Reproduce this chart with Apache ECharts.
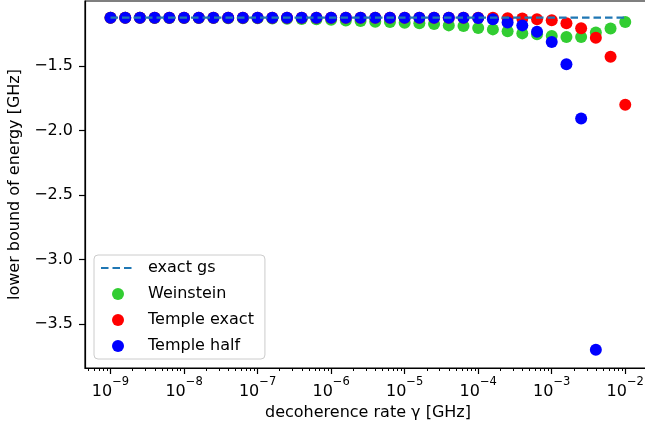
<!DOCTYPE html>
<html>
<head>
<meta charset="utf-8">
<script src="https://cdn.jsdelivr.net/npm/echarts@6/dist/echarts.min.js"></script>
<style>
html,body{margin:0;padding:0;background:#fff;}
#chart{width:645px;height:429px;}
</style>
</head>
<body>
<div id="chart"></div>
<script>
// decoherence rate gamma [GHz]
const gamma = [1e-9, 1.585e-9, 2.512e-9, 3.981e-9, 6.310e-9,
  1e-8, 1.585e-8, 2.512e-8, 3.981e-8, 6.310e-8,
  1e-7, 1.585e-7, 2.512e-7, 3.981e-7, 6.310e-7,
  1e-6, 1.585e-6, 2.512e-6, 3.981e-6, 6.310e-6,
  1e-5, 1.585e-5, 2.512e-5, 3.981e-5, 6.310e-5,
  1e-4, 1.585e-4, 2.512e-4, 3.981e-4, 6.310e-4,
  1e-3, 1.585e-3, 2.512e-3, 3.981e-3, 6.310e-3,
  1e-2];
const exactGs = [-1.125, -1.125, -1.125, -1.125, -1.125, -1.125, -1.125, -1.125, -1.125, -1.125,
  -1.125, -1.125, -1.125, -1.125, -1.125, -1.125, -1.125, -1.125, -1.125, -1.125,
  -1.125, -1.125, -1.125, -1.125, -1.125, -1.125, -1.125, -1.125, -1.125, -1.125,
  -1.125, -1.125, -1.125, -1.125, -1.125, -1.125];
const weinstein = [-1.1265, -1.1265, -1.1265, -1.127, -1.127, -1.127, -1.128, -1.128, -1.129, -1.129,
  -1.130, -1.131, -1.133, -1.135, -1.138, -1.142, -1.147, -1.152, -1.157, -1.159,
  -1.164, -1.169, -1.175, -1.185, -1.190, -1.206, -1.216, -1.231, -1.247, -1.254,
  -1.268, -1.275, -1.275, -1.241, -1.210, -1.159];
const templeExact = [-1.125, -1.125, -1.125, -1.125, -1.125, -1.125, -1.125, -1.125, -1.125, -1.125,
  -1.125, -1.125, -1.125, -1.125, -1.125, -1.125, -1.125, -1.125, -1.125, -1.125,
  -1.125, -1.125, -1.125, -1.125, -1.125, -1.125, -1.126, -1.130, -1.131, -1.138,
  -1.145, -1.169, -1.208, -1.280, -1.428, -1.800];
const templeHalf = [-1.125, -1.125, -1.125, -1.125, -1.125, -1.125, -1.125, -1.125, -1.125, -1.125,
  -1.125, -1.125, -1.125, -1.125, -1.125, -1.125, -1.125, -1.125, -1.125, -1.125,
  -1.125, -1.125, -1.125, -1.125, -1.126, -1.127, -1.138, -1.163, -1.185, -1.234,
  -1.314, -1.487, -1.906, -3.700, null, null];
const xMajorTicks = [1e-9, 1e-8, 1e-7, 1e-6, 1e-5, 1e-4, 1e-3, 1e-2];
const xMinorTicks = [
  5e-10, 6e-10, 7e-10, 8e-10, 9e-10,
  2e-9, 3e-9, 4e-9, 5e-9, 6e-9, 7e-9, 8e-9, 9e-9,
  2e-8, 3e-8, 4e-8, 5e-8, 6e-8, 7e-8, 8e-8, 9e-8,
  2e-7, 3e-7, 4e-7, 5e-7, 6e-7, 7e-7, 8e-7, 9e-7,
  2e-6, 3e-6, 4e-6, 5e-6, 6e-6, 7e-6, 8e-6, 9e-6,
  2e-5, 3e-5, 4e-5, 5e-5, 6e-5, 7e-5, 8e-5, 9e-5,
  2e-4, 3e-4, 4e-4, 5e-4, 6e-4, 7e-4, 8e-4, 9e-4,
  2e-3, 3e-3, 4e-3, 5e-3, 6e-3, 7e-3, 8e-3, 9e-3,
  2e-2];
const yTicks = [-3.5, -3.0, -2.5, -2.0, -1.5];

const FONT = 'DejaVu Sans';
const pairs = (ys) => gamma.map((g, i) => [g, ys[i]]).filter(p => p[1] !== null);
const X_MIN = Math.pow(10, -9.347);
const X_MAX = Math.pow(10, -1.65);

const chart = echarts.init(document.getElementById('chart'), null, {renderer: 'canvas'});
chart.setOption({
  animation: false,
  backgroundColor: '#fff',
  grid: {left: 85, top: 1, right: -6, bottom: 61, show: true, borderColor: '#000', borderWidth: 1.2,
    containLabel: false, outerBoundsMode: 'none'},
  xAxis: [{
    type: 'log', logBase: 10, min: X_MIN, max: X_MAX,
    name: 'decoherence rate γ [GHz]', nameLocation: 'middle', nameGap: 34,
    nameTextStyle: {fontFamily: FONT, fontSize: 16, color: '#000'},
    axisLine: {show: true, lineStyle: {color: '#000', width: 1.2}},
    axisTick: {show: true, length: 6, customValues: xMajorTicks, lineStyle: {color: '#000', width: 1.2}},
    splitLine: {show: false},
    minorTick: {show: false},
    axisLabel: {
      customValues: xMajorTicks, margin: 8, color: '#000',
      formatter: function (v) {
        const e = Math.round(Math.log10(v));
        return '{b|10}{s|' + (e < 0 ? '\u2212' : '') + Math.abs(e) + '}';
      },
      rich: {
        b: {fontFamily: FONT, fontSize: 16, color: '#000', lineHeight: 24, verticalAlign: 'bottom'},
        s: {fontFamily: FONT, fontSize: 11.5, color: '#000', lineHeight: 11, verticalAlign: 'top'}
      }
    }
  }, {
    type: 'log', logBase: 10, min: X_MIN, max: X_MAX, position: 'bottom',
    axisLine: {show: false},
    axisTick: {show: true, length: 3, customValues: xMinorTicks, lineStyle: {color: '#000', width: 1}},
    axisLabel: {show: false},
    splitLine: {show: false}
  }],
  yAxis: {
    type: 'value', min: -3.841, max: -0.996,
    name: 'lower bound of energy [GHz]', nameLocation: 'middle', nameGap: 52, nameRotate: 90,
    nameTextStyle: {fontFamily: FONT, fontSize: 16, color: '#000'},
    axisLine: {show: true, lineStyle: {color: '#000', width: 1.2}},
    axisTick: {show: true, length: 6, customValues: yTicks, lineStyle: {color: '#000', width: 1.2}},
    splitLine: {show: false},
    axisLabel: {
      customValues: yTicks, margin: 12, color: '#000', fontFamily: FONT, fontSize: 16,
      formatter: v => (v < 0 ? '\u2212' : '') + Math.abs(v).toFixed(1)
    }
  },
  legend: {
    orient: 'vertical', left: 94, top: 255,
    data: ['exact gs', 'Weinstein', 'Temple exact', 'Temple half'],
    itemWidth: 34, itemHeight: 12, itemGap: 8,
    padding: [4, 11, 4, 6],
    backgroundColor: 'rgba(255,255,255,0.8)', borderColor: '#cccccc', borderWidth: 1, borderRadius: 4,
    textStyle: {fontFamily: FONT, fontSize: 16, color: '#000', lineHeight: 18, padding: [0, 0, 0, 8]}
  },
  series: [
    {name: 'Weinstein', type: 'scatter', xAxisIndex: 0, data: pairs(weinstein), symbol: 'circle', symbolSize: 12, itemStyle: {color: '#32cd32', opacity: 1}, z: 2},
    {name: 'Temple exact', type: 'scatter', xAxisIndex: 0, data: pairs(templeExact), symbol: 'circle', symbolSize: 12, itemStyle: {color: '#ff0000', opacity: 1}, z: 2},
    {name: 'Temple half', type: 'scatter', xAxisIndex: 0, data: pairs(templeHalf), symbol: 'circle', symbolSize: 12, itemStyle: {color: '#0000ff', opacity: 1}, z: 2},
    {name: 'exact gs', type: 'line', xAxisIndex: 0, data: pairs(exactGs), showSymbol: false, symbol: 'none', z: 3,
      lineStyle: {color: '#1f77b4', width: 2.2, type: [7.5, 4], opacity: 1}, itemStyle: {color: '#1f77b4', opacity: 0}}
  ]
});
</script>
</body>
</html>
